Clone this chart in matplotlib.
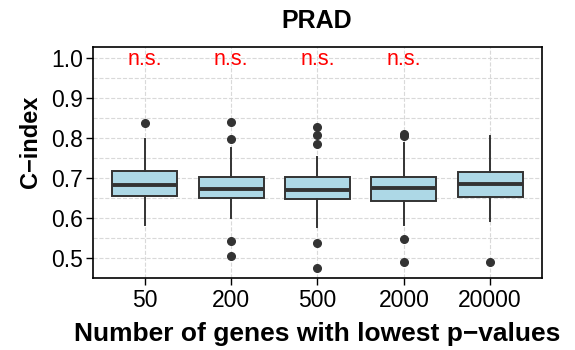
import matplotlib.pyplot as plt
from matplotlib.ticker import MultipleLocator

plt.rcParams['font.family'] = ['Liberation Sans', 'DejaVu Sans']

genes = ["50", "200", "500", "2000", "20000"]
q1 = [0.655, 0.650, 0.648, 0.643, 0.653]
med = [0.682, 0.673, 0.671, 0.676, 0.685]
q3 = [0.718, 0.703, 0.703, 0.703, 0.716]
whislo = [0.583, 0.599, 0.578, 0.582, 0.593]
whishi = [0.797, 0.776, 0.753, 0.787, 0.806]
fliers = [
    [0.837],
    [0.840, 0.798, 0.543, 0.506],
    [0.828, 0.808, 0.784, 0.537, 0.474],
    [0.810, 0.805, 0.548, 0.491],
    [0.490],
]
signif = ["n.s.", "n.s.", "n.s.", "n.s."]

stats = []
for i in range(len(genes)):
    stats.append(dict(q1=q1[i], med=med[i], q3=q3[i], whislo=whislo[i],
                      whishi=whishi[i], fliers=fliers[i], label=genes[i]))

fig = plt.figure(figsize=(5.75, 3.5), dpi=100)
ax = fig.add_axes([0.1617, 0.2057, 0.7809, 0.66])

edge = '#333333'
ax.bxp(stats, positions=range(1, 6), widths=0.75, patch_artist=True,
       showcaps=False,
       boxprops=dict(facecolor='#ADD8E6', edgecolor=edge, linewidth=1.4),
       medianprops=dict(color=edge, linewidth=2.8),
       whiskerprops=dict(color=edge, linewidth=1.4),
       flierprops=dict(marker='o', markerfacecolor=edge, markeredgecolor=edge,
                       markersize=5.5))

for i, s in enumerate(signif):
    ax.text(i + 1, 0.996, s, color='red', ha='center', va='center', fontsize=15.5)

ax.set_xlim(0.4, 5.6)
ax.set_ylim(0.45, 1.0275)
ax.set_yticks([0.5, 0.6, 0.7, 0.8, 0.9, 1.0])
ax.set_yticklabels(["0.5", "0.6", "0.7", "0.8", "0.9", "1.0"])
ax.yaxis.set_minor_locator(MultipleLocator(0.05))
ax.grid(True, which='both', axis='y', color='#d9d9d9', linestyle='--', linewidth=0.8)
ax.grid(True, which='major', axis='x', color='#d9d9d9', linestyle='--', linewidth=0.8)
ax.set_axisbelow(True)
ax.tick_params(axis='y', which='minor', left=False)
ax.tick_params(axis='y', which='major', labelsize=16.5, length=5, width=1, pad=2)
ax.tick_params(axis='x', which='major', labelsize=16.5, length=5, width=1, pad=3)
for sp in ax.spines.values():
    sp.set_color('black')
    sp.set_linewidth(1.2)

fig.text(317 / 575, 1 - 21 / 350, "PRAD", fontsize=18, fontweight='bold',
         ha='center', va='center')
fig.text(30 / 575, 1 - 142 / 350, "C\u2212index", fontsize=17, fontweight='bold',
         ha='center', va='center', rotation=90)
fig.text(317 / 575, 1 - 334 / 350, "Number of genes with lowest p\u2212values",
         fontsize=19, fontweight='bold', ha='center', va='center')

fig.savefig("out.png", dpi=100)
